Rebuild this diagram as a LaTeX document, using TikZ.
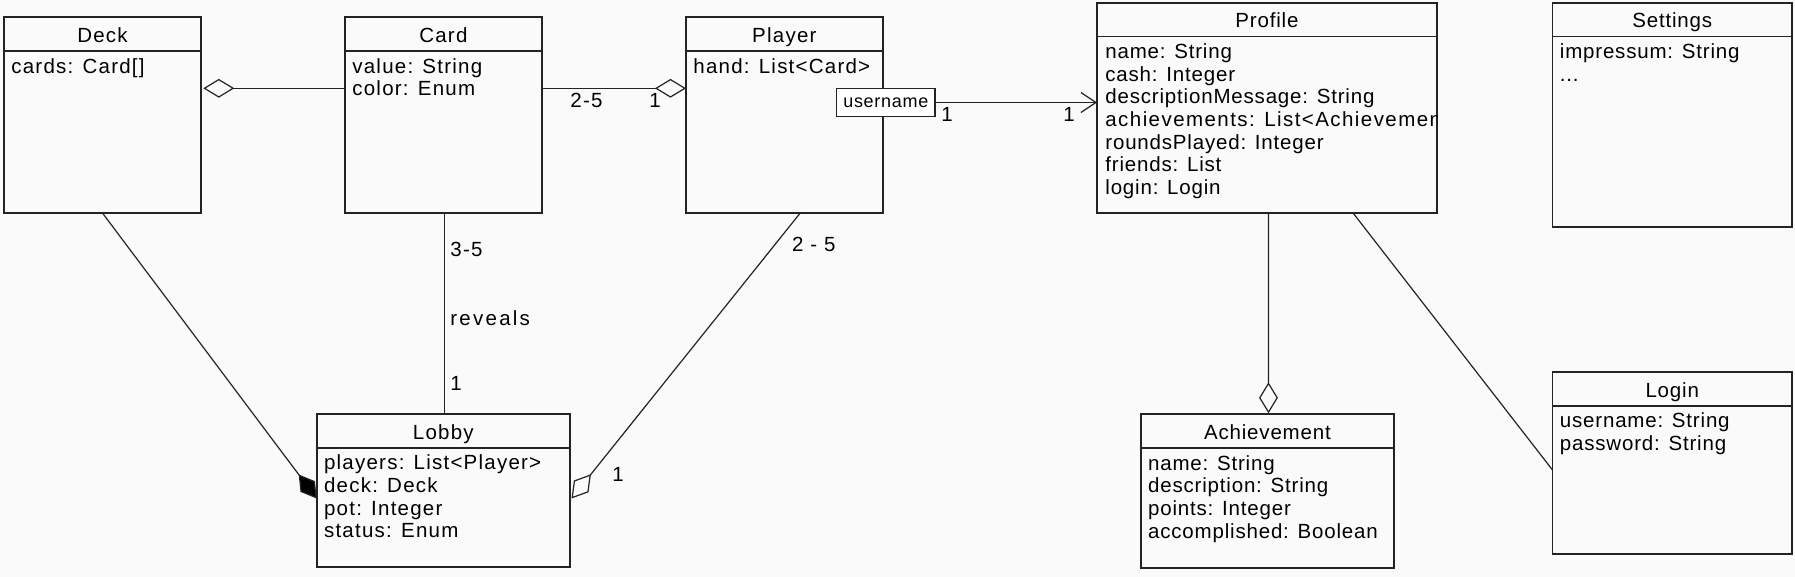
\documentclass[tikz,border=0pt]{standalone}
\usepackage{fontspec}
\usetikzlibrary{arrows.meta,calc,fit}
\newfontfamily\famA{Liberation Sans}[LetterSpace=6]
\newfontfamily\famB{Liberation Sans}[LetterSpace=4]
\newfontfamily\famBw{Liberation Sans}[LetterSpace=7]
\newfontfamily\famR{Liberation Sans}[LetterSpace=11]
\newfontfamily\famU{Liberation Sans}[LetterSpace=4]
\newcommand\myfA{\famA\fontsize{10.25pt}{11.35pt}\selectfont}
\newcommand\myfB{\famB\fontsize{10.25pt}{11.35pt}\selectfont}
\newcommand\myfBw{\famBw\fontsize{10.25pt}{11.35pt}\selectfont}
\newcommand\myfR{\famR\fontsize{10.25pt}{11.35pt}\selectfont}
\newcommand\myfU{\famU\fontsize{9pt}{10pt}\selectfont}
\definecolor{bgc}{RGB}{250,250,250}
\definecolor{lc}{RGB}{35,35,35}
\tikzset{
  cls/.style={draw=lc, line width=0.85pt, fill=bgc, inner sep=0pt, outer sep=0pt},
  hdr/.style={draw=lc, line width=0.85pt},
  ttlA/.style={font=\myfA, inner sep=0pt, anchor=base},
  ttlB/.style={font=\myfB, inner sep=0pt, anchor=base},
  atA/.style={font=\myfA, inner sep=0pt, anchor=base west},
  atB/.style={font=\myfB, inner sep=0pt, anchor=base west},
  lbl/.style={font=\myfA, inner sep=0pt, anchor=base west},
  conn/.style={draw=lc, line width=0.6pt},
  odia/.style={-{Diamond[length=15.5pt,width=9.4pt,fill=bgc,line width=0.6pt]}},
  fdia/.style={-{Diamond[length=15pt,width=9pt,fill=black,line width=0.6pt]}},
  barb/.style={-{Straight Barb[length=7.5pt,width=10pt,line width=0.6pt]}}
}
\begin{document}
\begin{tikzpicture}[x=0.5pt,y=-0.5pt]
\fill[bgc] (0,0) rectangle (1795,577);
\useasboundingbox (0,0) rectangle (1795,577);

% class boxes
\node[cls, fit={(4,17.3) (201,213.3)}] (deck) {};
\node[cls, fit={(345,17.3) (541.8,213.3)}] (card) {};
\node[cls, fit={(686,17.3) (882.7,213.3)}] (player) {};
\node[cls, fit={(1097,2.7) (1437,213.3)}] (profile) {};
\node[cls, fit={(1552.5,2.7) (1792,227)}] (settings) {};
\node[cls, fit={(316.7,414) (570,566.7)}] (lobby) {};
\node[cls, fit={(1140.7,414.3) (1394.2,568.3)}] (ach) {};
\node[cls, fit={(1552.5,372) (1792,554)}] (login) {};

% header separators
\foreach \n in {deck,card,player,profile,settings,lobby,ach,login}
  \draw[hdr] ($(\n.north west)+(0,33.7)$) -- ($(\n.north east)+(0,33.7)$);

% connectors
\draw[conn, odia] ($(card.north west)+(0,71)$) -- ($(deck.north east)+(2.3,71)$);
\draw[conn, odia] ($(card.north east)+(0,71)$) -- ($(player.north west)+(0,71)$);
\draw[conn, fdia] ($(deck.south west)+(98.7,0)$) -- ($(lobby.north west)+(0,84.5)$);
\draw[conn] ($(card.south west)+(99.3,0)$) -- ($(lobby.north west)+(127.6,0)$);
\draw[conn, odia] ($(player.south west)+(114,0)$) -- ($(lobby.north east)+(1.5,84.5)$);
\draw[conn, odia] ($(profile.south west)+(171.4,0)$) -- ($(ach.north west)+(127.8,-1)$);
\draw[conn] ($(profile.south west)+(256.3,0)$) -- ($(login.north west)+(0,98)$);

% username qualifier
\node[cls, fill=white, line width=0.75pt, fit={(836.7,88.3) (935,116.7)}] (uname) {};
\node[font=\myfU, inner sep=0pt] (uname-t) at (uname.center) {username};
\draw[conn, barb] (uname.east) -- (uname.east -| profile.west);

% titles
\node[ttlA] (deck-t) at ($(deck.north)+(0,25.3)$) {Deck};
\node[ttlA] (card-t) at ($(card.north)+(0,25.3)$) {Card};
\node[ttlA] (player-t) at ($(player.north)+(0,25.3)$) {Player};
\node[ttlA] (lobby-t) at ($(lobby.north)+(0,25.3)$) {Lobby};
\node[ttlB] (profile-t) at ($(profile.north)+(0,25.3)$) {Profile};
\node[ttlB] (settings-t) at ($(settings.north)+(0,25.3)$) {Settings};
\node[ttlB] (ach-t) at ($(ach.north)+(0,25.3)$) {Achievement};
\node[ttlB] (login-t) at ($(login.north)+(0,25.3)$) {Login};

% attributes
\node[atA] (deck-a1) at ($(deck.north west)+(7,55.8)$) {cards: Card[]};
\node[atA] (card-a1) at ($(card.north west)+(7,55.8)$) {value: String};
\node[atA] (card-a2) at ($(card.north west)+(7,78.5)$) {color: Enum};
\node[atA] (player-a1) at ($(player.north west)+(7,55.8)$) {hand: List<Card>};
\node[atA] (lobby-a1) at ($(lobby.north west)+(7,55.8)$) {players: List<Player>};
\node[atA] (lobby-a2) at ($(lobby.north west)+(7,78.5)$) {deck: Deck};
\node[atA] (lobby-a3) at ($(lobby.north west)+(7,101.2)$) {pot: Integer};
\node[atA] (lobby-a4) at ($(lobby.north west)+(7,123.9)$) {status: Enum};

\begin{scope}
\clip (profile.north west) rectangle (profile.south east);
\node[atB] (profile-a1) at ($(profile.north west)+(8,55.8)$) {name: String};
\node[atB] (profile-a2) at ($(profile.north west)+(8,78.5)$) {cash: Integer};
\node[atB] (profile-a3) at ($(profile.north west)+(8,101.2)$) {descriptionMessage: String};
\node[atB, font=\myfBw] (profile-a4) at ($(profile.north west)+(8,123.9)$) {achievements: List<Achievement>};
\node[atB] (profile-a5) at ($(profile.north west)+(8,146.6)$) {roundsPlayed: Integer};
\node[atB] (profile-a6) at ($(profile.north west)+(8,169.3)$) {friends: List};
\node[atB] (profile-a7) at ($(profile.north west)+(8,192)$) {login: Login};
\end{scope}

\node[atB] (settings-a1) at ($(settings.north west)+(7,55.8)$) {impressum: String};
\node[atB] (settings-a2) at ($(settings.north west)+(7,78.5)$) {...};
\node[atB] (ach-a1) at ($(ach.north west)+(7,55.8)$) {name: String};
\node[atB] (ach-a2) at ($(ach.north west)+(7,78.5)$) {description: String};
\node[atB] (ach-a3) at ($(ach.north west)+(7,101.2)$) {points: Integer};
\node[atB] (ach-a4) at ($(ach.north west)+(7,123.9)$) {accomplished: Boolean};
\node[atB] (login-a1) at ($(login.north west)+(7,55.8)$) {username: String};
\node[atB] (login-a2) at ($(login.north west)+(7,78.5)$) {password: String};

% connector labels
\node[lbl] (m-cp1) at (570,107.3) {2-5};
\node[lbl] (m-cp2) at (649,107.3) {1};
\node[lbl] (m-cl1) at (450,256.7) {3-5};
\node[font=\myfR, inner sep=0pt, anchor=base west] (m-cl2) at (450,326) {reveals};
\node[lbl] (m-cl3) at (450,391) {1};
\node[lbl] (m-pl1) at (791.7,251.7) {2 - 5};
\node[lbl] (m-pl2) at (612,481) {1};
\node[lbl] (m-up1) at (941,121.5) {1};
\node[lbl] (m-up2) at (1063,121.5) {1};
\end{tikzpicture}
\end{document}
